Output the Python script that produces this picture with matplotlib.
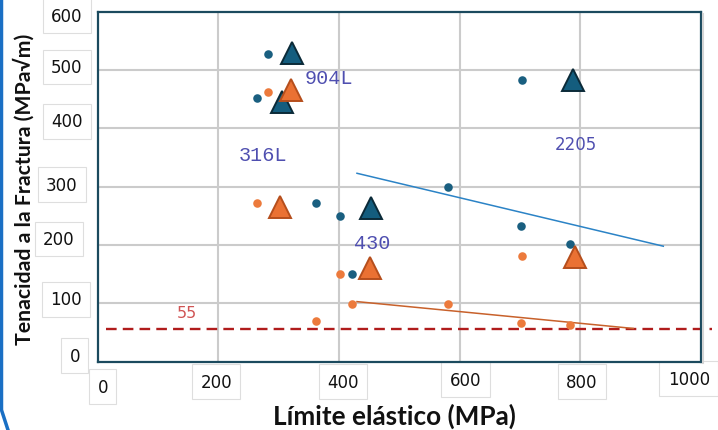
import matplotlib
matplotlib.use("Agg")
import matplotlib.pyplot as plt
from matplotlib.lines import Line2D

# ---- data ----
blue_x = [282, 264, 362, 402, 421, 581, 703, 702, 783]
blue_y = [527, 452, 272, 250, 150, 299, 483, 232, 202]
orange_x = [282, 264, 402, 421, 362, 581, 703, 702, 783]
orange_y = [463, 272, 150, 99, 69, 99, 182, 67, 63]

blue_tri_x = [322, 305, 453, 788]
blue_tri_y = [530, 446, 263, 483]
orange_tri_x = [320, 302, 452, 792]
orange_tri_y = [466, 266, 160, 180]

blue_trend_x = [430, 938]
blue_trend_y = [323, 198]
orange_trend_x = [430, 888]
orange_trend_y = [103, 57]

limit_value = 56
limit_x = [13, 1018]

x_ticks = [0, 200, 400, 600, 800, 1000]
x_tick_labels = ["0", "200", "400", "600", "800", "1000"]
y_ticks = [0, 100, 200, 300, 400, 500, 600]
y_tick_labels = ["0", "100", "200", "300", "400", "500", "600"]

grades = ["904L", "316L", "430", "2205"]
grade_x = [383, 274, 455, 793]
grade_y = [487, 356, 205, 373]

# ---- figure ----
W, H = 718, 431
fig = plt.figure(figsize=(W / 100, H / 100), dpi=100)
L, R, T, B = 97.7, 700.7, 12.7, 362.7
ax = fig.add_axes([L / W, 1 - B / H, (R - L) / W, (B - T) / H])
ax.set_xlim(0, 1000)
ax.set_ylim(0, 600)

for s in ax.spines.values():
    s.set_color("#1b4a5e")
    s.set_linewidth(1.6)
    s.set_zorder(6)

ax.set_xticks([200, 400, 600, 800])
ax.set_yticks([100, 200, 300, 400, 500])
ax.grid(True, color="#cbcbcb", linewidth=1.5)
ax.set_axisbelow(True)
ax.tick_params(length=0, labelbottom=False, labelleft=False)

# light shadow on right of plot
fig.add_artist(Line2D([(R + 2.5) / W] * 2, [1 - (T + 2) / H, 1 - (B + 1) / H],
                      color="#d4d4d4", lw=1.5))

# limit dashed line
ax.plot(limit_x, [limit_value] * 2, color="#b01c1c", lw=1.7,
        linestyle=(0, (4.5, 2.6)), clip_on=False, zorder=3)

# trend lines
ax.plot(blue_trend_x, blue_trend_y, color="#2b83c6", lw=1.1, zorder=3)
ax.plot(orange_trend_x, orange_trend_y, color="#c8612b", lw=1.1, zorder=3)

# small dots
ax.scatter(blue_x, blue_y, s=38, color="#1a5f80", zorder=4, linewidths=0)
ax.scatter(orange_x, orange_y, s=38, color="#ec7a3c", zorder=4, linewidths=0)

# triangles
ax.plot(blue_tri_x, blue_tri_y, linestyle="none", marker="^", markersize=16.5,
        markerfacecolor="#145d7e", markeredgecolor="#0b2a38", markeredgewidth=1.4, zorder=5)
ax.plot(orange_tri_x, orange_tri_y, linestyle="none", marker="^", markersize=16.5,
        markerfacecolor="#ea7133", markeredgecolor="#b54e1c", markeredgewidth=1.4, zorder=5)

# grade labels
for i, g in enumerate(grades):
    if g == "2205":
        ax.text(grade_x[i], grade_y[i], g, color="#4f4fb0", fontsize=12,
                family="DejaVu Sans", ha="center", va="center", zorder=6)
    else:
        ax.text(grade_x[i], grade_y[i], g, color="#4f4fb0", fontsize=14.5,
                family="Liberation Mono", ha="center", va="center", zorder=6)
ax.text(148, 85, str(55), color="#d05454", fontsize=11.5, family="DejaVu Sans",
        ha="center", va="center", zorder=6)

# tick labels (slightly jittered like the source slide)
y_dx = [-23, -32, -39, -36, -31, -31, -31]
y_dy = [6, 4, 6, 2, 7, 3, -4]
box = dict(boxstyle="square,pad=0.5", facecolor="white", edgecolor="#dedede", linewidth=0.8)
for v, lab, dx, dy in zip(y_ticks, y_tick_labels, y_dx, y_dy):
    ax.annotate(lab, xy=(0, v), xycoords=("axes fraction", "data"),
                xytext=(dx, dy), textcoords="offset pixels", ha="center", va="center",
                fontsize=12, family="DejaVu Sans", color="#111111", bbox=box,
                annotation_clip=False)
x_dx = [5, -2, 4, 6, 2, -12]
x_dy = [-25, -20, -20, -18, -20, -17]
for v, lab, dx, dy in zip(x_ticks, x_tick_labels, x_dx, x_dy):
    ax.annotate(lab, xy=(v, 0), xycoords=("data", "axes fraction"),
                xytext=(dx, dy), textcoords="offset pixels", ha="center", va="center",
                fontsize=12, family="DejaVu Sans", color="#111111", bbox=box,
                annotation_clip=False)

# axis titles
fig.text(394 / W, 1 - 416 / H, "Límite elástico (MPa)", fontsize=18.8, fontweight="bold",
         family="Lato", ha="center", va="center", color="#111111")
fig.text(24 / W, 1 - 189 / H, "Tenacidad a la Fractura (MPa√m)", fontsize=15.3,
         fontweight="bold", family=["Lato", "DejaVu Sans"], rotation=90, ha="center",
         va="center", color="#111111")

# blue slide edge on the left
fig.add_artist(Line2D([1.5 / W, 1.5 / W, 8 / W], [1, 20 / H, 0],
                      color="#1a6fc4", lw=2.5))

fig.savefig("out.png", dpi=100)
